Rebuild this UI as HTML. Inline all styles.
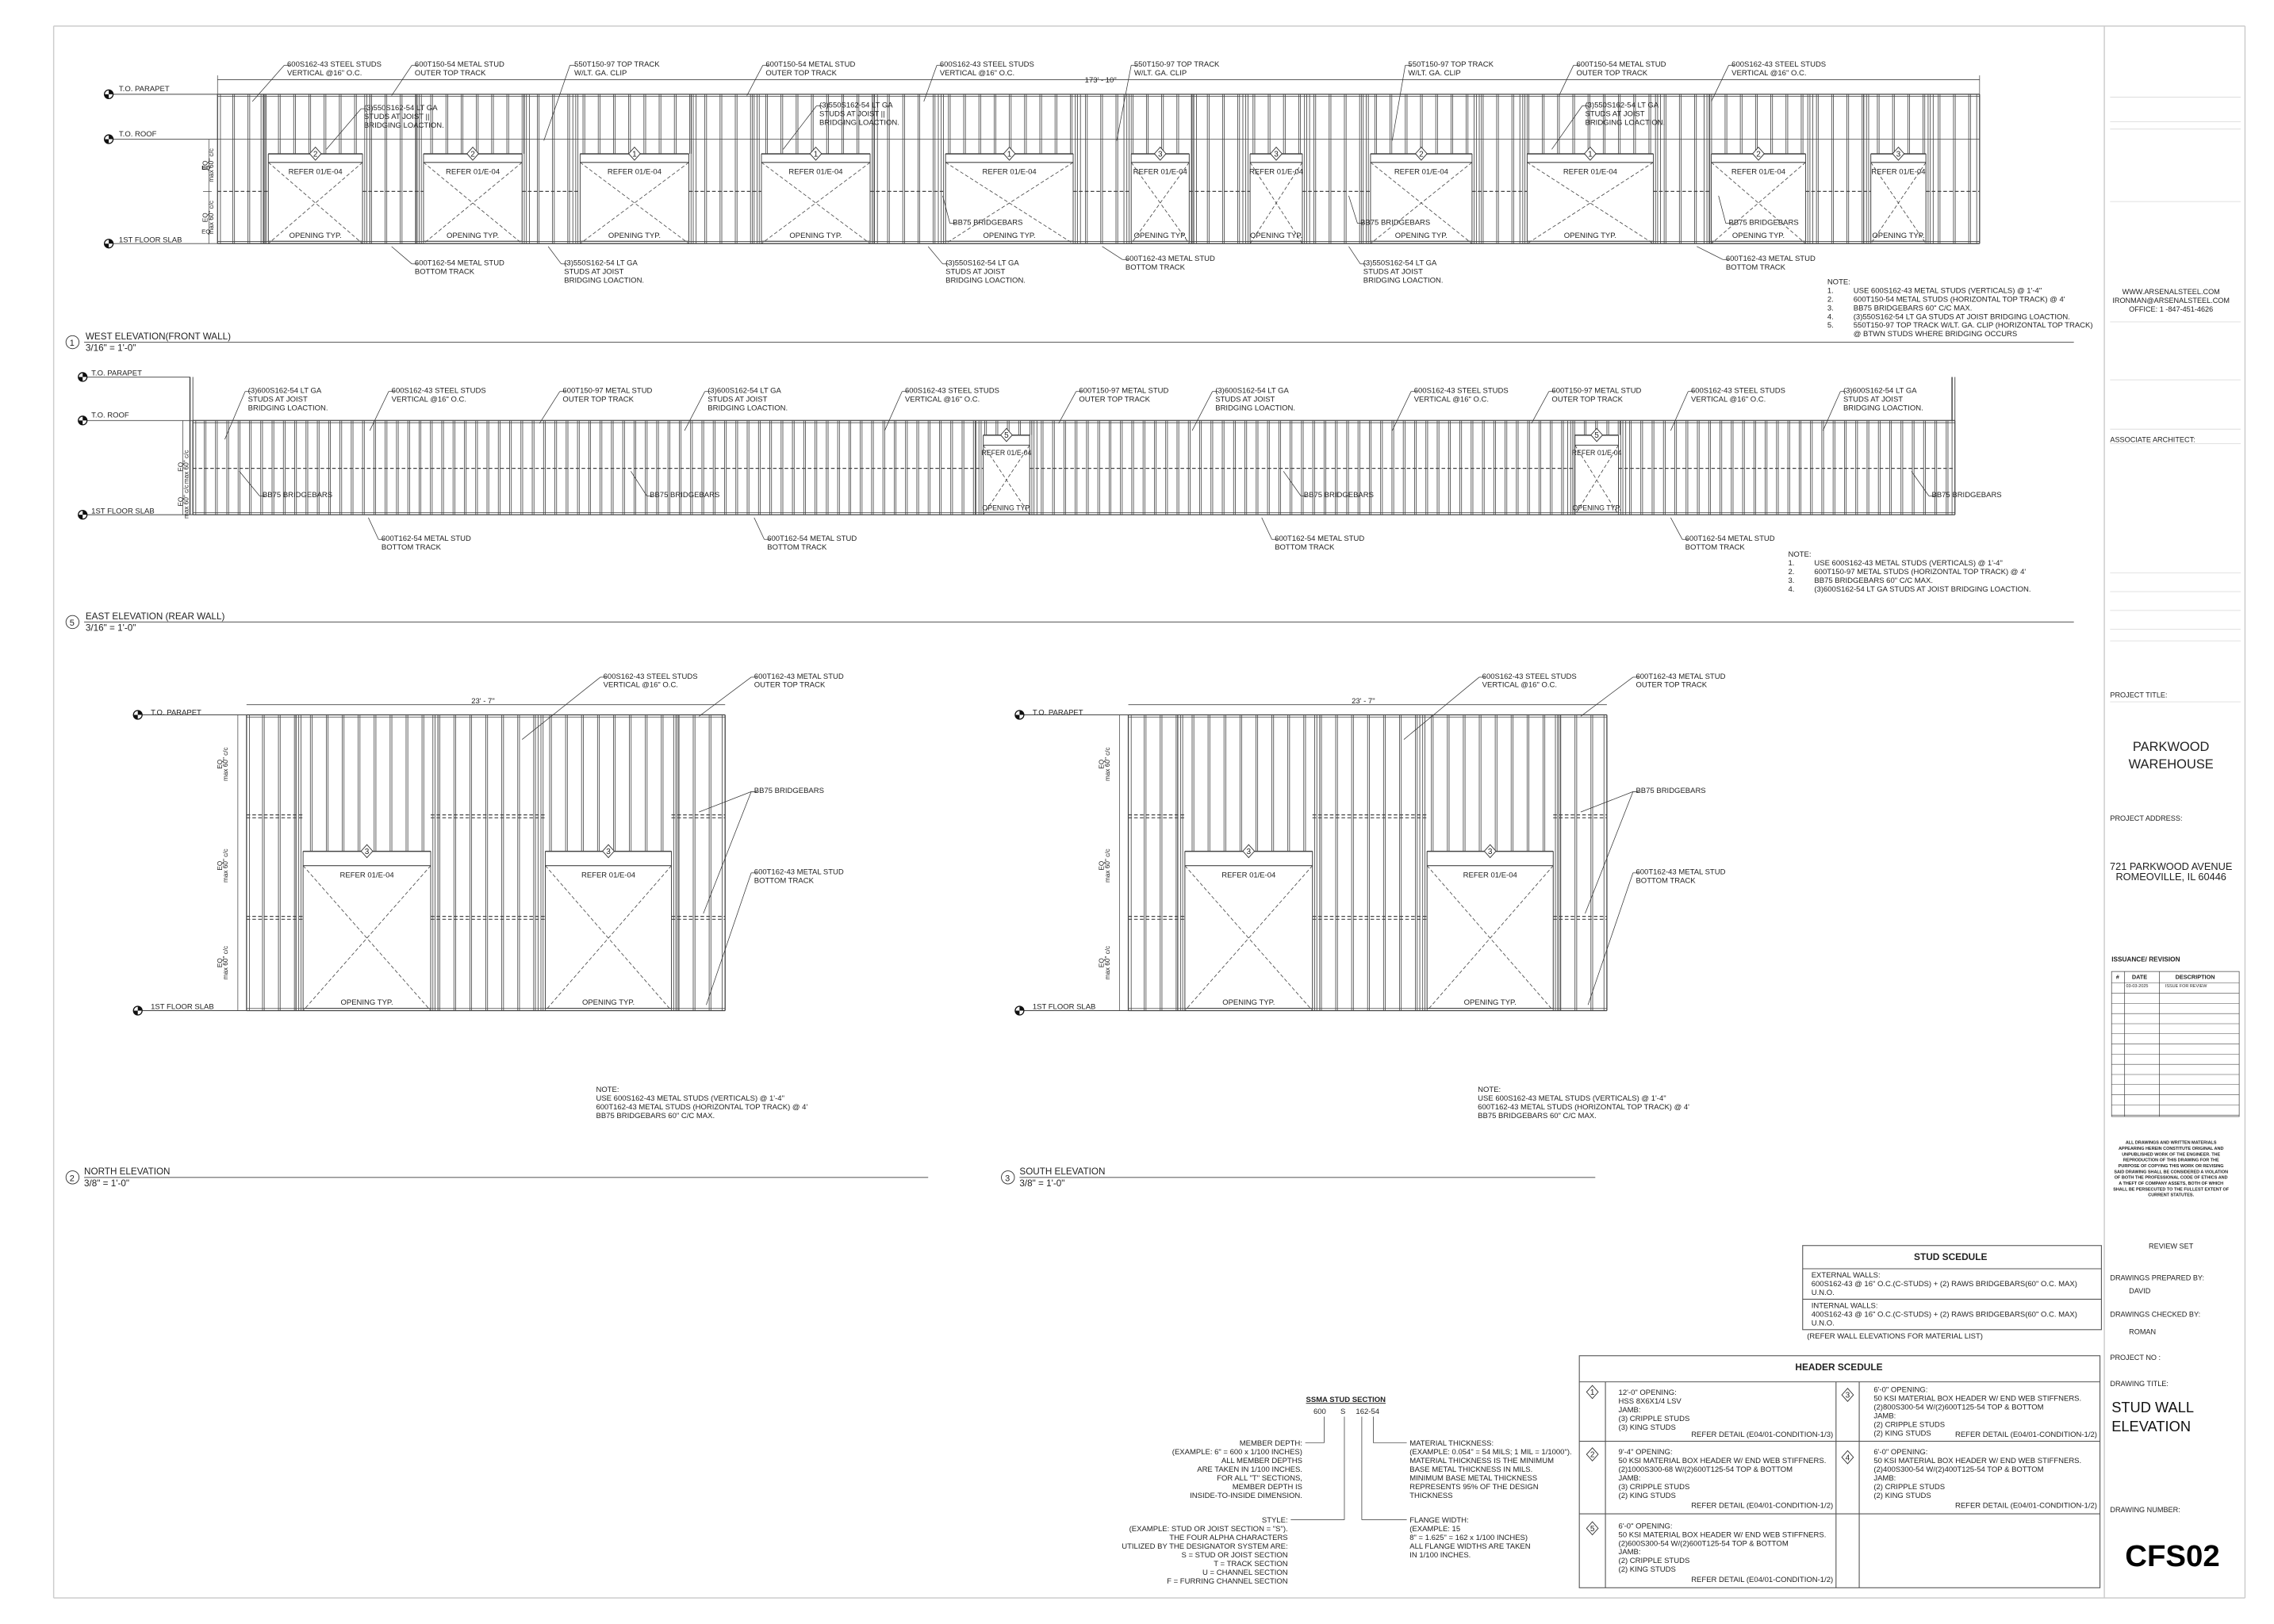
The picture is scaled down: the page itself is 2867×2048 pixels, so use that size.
<!DOCTYPE html>
<html><head><meta charset="utf-8"><style>
html,body{margin:0;padding:0;background:#fff}
svg{display:block}
text{font-family:"Liberation Sans Narrow","Liberation Sans",sans-serif;fill:#222}
.s{font-size:5.2px}
.m{font-size:6.4px}
.tb{font-family:"Liberation Sans",sans-serif;font-size:5px;fill:#333}
</style></head><body>
<svg id="d" xmlns="http://www.w3.org/2000/svg" width="2867" height="2048" viewBox="0 0 1568 1120" preserveAspectRatio="none">
<rect x="0" y="0" width="1568" height="1120" fill="#fff"/>
<g fill="none" stroke="#ccc" stroke-width="0.8">
<line x1="37" y1="18" x2="37" y2="1102"/><line x1="37" y1="18" x2="1548" y2="18"/><line x1="37" y1="1102" x2="1548" y2="1102"/>
<line x1="1451" y1="18" x2="1451" y2="1102"/><line x1="1548" y1="18" x2="1548" y2="1102"/>
</g>
<g id="lines" stroke="#444" stroke-width="0.45" fill="none"></g>
<g id="dash" stroke="#444" stroke-width="0.45" fill="none" stroke-dasharray="2.5,1.5"></g>
<g id="lead" stroke="#333" stroke-width="0.4" fill="none"></g>
<g id="mk"></g>

<!-- WEST labels -->
<g class="s">
<text x="198" y="46">600S162-43 STEEL STUDS</text><text x="198" y="52">VERTICAL @16" O.C.</text>
<text x="286" y="46">600T150-54 METAL STUD</text><text x="286" y="52">OUTER TOP TRACK</text>
<text x="396" y="46">550T150-97 TOP TRACK</text><text x="396" y="52">W/LT. GA. CLIP</text>
<text x="528" y="46">600T150-54 METAL STUD</text><text x="528" y="52">OUTER TOP TRACK</text>
<text x="648" y="46">600S162-43 STEEL STUDS</text><text x="648" y="52">VERTICAL @16" O.C.</text>
<text x="782" y="46">550T150-97 TOP TRACK</text><text x="782" y="52">W/LT. GA. CLIP</text>
<text x="971" y="46">550T150-97 TOP TRACK</text><text x="971" y="52">W/LT. GA. CLIP</text>
<text x="1087" y="46">600T150-54 METAL STUD</text><text x="1087" y="52">OUTER TOP TRACK</text>
<text x="1194" y="46">600S162-43 STEEL STUDS</text><text x="1194" y="52">VERTICAL @16" O.C.</text>
<text x="748" y="57">173' - 10"</text>
<text x="251" y="76">(3)550S162-54 LT GA</text><text x="251" y="82">STUDS AT JOIST ||</text><text x="251" y="88">BRIDGING LOACTION.</text>
<text x="565" y="74">(3)550S162-54 LT GA</text><text x="565" y="80">STUDS AT JOIST ||</text><text x="565" y="86">BRIDGING LOACTION.</text>
<text x="1093" y="74">(3)550S162-54 LT GA</text><text x="1093" y="80">STUDS AT JOIST</text><text x="1093" y="86">BRIDGING LOACTION.</text>
<text x="286" y="183">600T162-54 METAL STUD</text><text x="286" y="189">BOTTOM TRACK</text>
<text x="389" y="183">(3)550S162-54 LT GA</text><text x="389" y="189">STUDS AT JOIST</text><text x="389" y="195">BRIDGING LOACTION.</text>
<text x="652" y="183">(3)550S162-54 LT GA</text><text x="652" y="189">STUDS AT JOIST</text><text x="652" y="195">BRIDGING LOACTION.</text>
<text x="776" y="180">600T162-43 METAL STUD</text><text x="776" y="186">BOTTOM TRACK</text>
<text x="940" y="183">(3)550S162-54 LT GA</text><text x="940" y="189">STUDS AT JOIST</text><text x="940" y="195">BRIDGING LOACTION.</text>
<text x="1190" y="180">600T162-43 METAL STUD</text><text x="1190" y="186">BOTTOM TRACK</text>
<text x="657" y="155">BB75 BRIDGEBARS</text><text x="938" y="155">BB75 BRIDGEBARS</text><text x="1192" y="155">BB75 BRIDGEBARS</text>
<text x="1260" y="196">NOTE:</text>
<text x="1260" y="202">1.</text><text x="1278" y="202">USE 600S162-43 METAL STUDS (VERTICALS) @ 1'-4"</text>
<text x="1260" y="208">2.</text><text x="1278" y="208">600T150-54 METAL STUDS (HORIZONTAL TOP TRACK) @ 4'</text>
<text x="1260" y="214">3.</text><text x="1278" y="214">BB75 BRIDGEBARS 60" C/C MAX.</text>
<text x="1260" y="220">4.</text><text x="1278" y="220">(3)550S162-54 LT GA STUDS AT JOIST BRIDGING LOACTION.</text>
<text x="1260" y="226">5.</text><text x="1278" y="226">550T150-97 TOP TRACK W/LT. GA. CLIP (HORIZONTAL TOP TRACK)</text>
<text x="1278" y="232">@ BTWN STUDS WHERE BRIDGING OCCURS</text>
</g>
<g class="s">
<text x="82" y="63">T.O. PARAPET</text><text x="82" y="94">T.O. ROOF</text><text x="82" y="167">1ST FLOOR SLAB</text>
<text x="63" y="259">T.O. PARAPET</text><text x="63" y="288">T.O. ROOF</text><text x="63" y="354">1ST FLOOR SLAB</text>
<text x="104" y="493">T.O. PARAPET</text><text x="104" y="696">1ST FLOOR SLAB</text>
<text x="712" y="493">T.O. PARAPET</text><text x="712" y="696">1ST FLOOR SLAB</text>
</g>
<!-- EAST labels -->
<g class="s">
<text x="171" y="271">(3)600S162-54 LT GA</text><text x="171" y="277">STUDS AT JOIST</text><text x="171" y="283">BRIDGING LOACTION.</text>
<text x="270" y="271">600S162-43 STEEL STUDS</text><text x="270" y="277">VERTICAL @16" O.C.</text>
<text x="388" y="271">600T150-97 METAL STUD</text><text x="388" y="277">OUTER TOP TRACK</text>
<text x="488" y="271">(3)600S162-54 LT GA</text><text x="488" y="277">STUDS AT JOIST</text><text x="488" y="283">BRIDGING LOACTION.</text>
<text x="624" y="271">600S162-43 STEEL STUDS</text><text x="624" y="277">VERTICAL @16" O.C.</text>
<text x="744" y="271">600T150-97 METAL STUD</text><text x="744" y="277">OUTER TOP TRACK</text>
<text x="838" y="271">(3)600S162-54 LT GA</text><text x="838" y="277">STUDS AT JOIST</text><text x="838" y="283">BRIDGING LOACTION.</text>
<text x="975" y="271">600S162-43 STEEL STUDS</text><text x="975" y="277">VERTICAL @16" O.C.</text>
<text x="1070" y="271">600T150-97 METAL STUD</text><text x="1070" y="277">OUTER TOP TRACK</text>
<text x="1166" y="271">600S162-43 STEEL STUDS</text><text x="1166" y="277">VERTICAL @16" O.C.</text>
<text x="1271" y="271">(3)600S162-54 LT GA</text><text x="1271" y="277">STUDS AT JOIST</text><text x="1271" y="283">BRIDGING LOACTION.</text>
<text x="181" y="343">BB75 BRIDGEBARS</text><text x="448" y="343">BB75 BRIDGEBARS</text><text x="899" y="343">BB75 BRIDGEBARS</text><text x="1332" y="343">BB75 BRIDGEBARS</text>
<text x="263" y="373">600T162-54 METAL STUD</text><text x="263" y="379">BOTTOM TRACK</text>
<text x="529" y="373">600T162-54 METAL STUD</text><text x="529" y="379">BOTTOM TRACK</text>
<text x="879" y="373">600T162-54 METAL STUD</text><text x="879" y="379">BOTTOM TRACK</text>
<text x="1162" y="373">600T162-54 METAL STUD</text><text x="1162" y="379">BOTTOM TRACK</text>
<text x="1233" y="384">NOTE:</text>
<text x="1233" y="390">1.</text><text x="1251" y="390">USE 600S162-43 METAL STUDS (VERTICALS) @ 1'-4"</text>
<text x="1233" y="396">2.</text><text x="1251" y="396">600T150-97 METAL STUDS (HORIZONTAL TOP TRACK) @ 4'</text>
<text x="1233" y="402">3.</text><text x="1251" y="402">BB75 BRIDGEBARS 60" C/C MAX.</text>
<text x="1233" y="408">4.</text><text x="1251" y="408">(3)600S162-54 LT GA STUDS AT JOIST BRIDGING LOACTION.</text>
</g>
<!-- NORTH / SOUTH labels -->
<g class="s">
<text x="416" y="468">600S162-43 STEEL STUDS</text><text x="416" y="474">VERTICAL @16" O.C.</text>
<text x="520" y="468">600T162-43 METAL STUD</text><text x="520" y="474">OUTER TOP TRACK</text>
<text x="520" y="547">BB75 BRIDGEBARS</text>
<text x="520" y="603">600T162-43 METAL STUD</text><text x="520" y="609">BOTTOM TRACK</text>
<text x="325" y="485">23' - 7"</text>
<text x="411" y="753">NOTE:</text><text x="411" y="759">USE 600S162-43 METAL STUDS (VERTICALS) @ 1'-4"</text><text x="411" y="765">600T162-43 METAL STUDS (HORIZONTAL TOP TRACK) @ 4'</text><text x="411" y="771">BB75 BRIDGEBARS 60" C/C MAX.</text>
<text x="1022" y="468">600S162-43 STEEL STUDS</text><text x="1022" y="474">VERTICAL @16" O.C.</text>
<text x="1128" y="468">600T162-43 METAL STUD</text><text x="1128" y="474">OUTER TOP TRACK</text>
<text x="1128" y="547">BB75 BRIDGEBARS</text>
<text x="1128" y="603">600T162-43 METAL STUD</text><text x="1128" y="609">BOTTOM TRACK</text>
<text x="932" y="485">23' - 7"</text>
<text x="1019" y="753">NOTE:</text><text x="1019" y="759">USE 600S162-43 METAL STUDS (VERTICALS) @ 1'-4"</text><text x="1019" y="765">600T162-43 METAL STUDS (HORIZONTAL TOP TRACK) @ 4'</text><text x="1019" y="771">BB75 BRIDGEBARS 60" C/C MAX.</text>
</g>
<!-- titles -->
<g class="m">
<circle cx="50" cy="236" r="4.5" fill="none" stroke="#333" stroke-width="0.5"/><text x="48" y="238.5" style="font-size:6px">1</text>
<text x="59" y="234">WEST ELEVATION(FRONT WALL)</text><text x="59" y="242">3/16" = 1'-0"</text>
<circle cx="50" cy="429" r="4.5" fill="none" stroke="#333" stroke-width="0.5"/><text x="48" y="431.5" style="font-size:6px">5</text>
<text x="59" y="427">EAST ELEVATION (REAR WALL)</text><text x="59" y="435">3/16" = 1'-0"</text>
<circle cx="50" cy="812" r="4.5" fill="none" stroke="#333" stroke-width="0.5"/><text x="48" y="814.5" style="font-size:6px">2</text>
<text x="58" y="810">NORTH ELEVATION</text><text x="58" y="818">3/8" = 1'-0"</text>
<circle cx="695" cy="812" r="4.5" fill="none" stroke="#333" stroke-width="0.5"/><text x="693" y="814.5" style="font-size:6px">3</text>
<text x="703" y="810">SOUTH ELEVATION</text><text x="703" y="818">3/8" = 1'-0"</text>
</g>
<g stroke="#666" stroke-width="0.6"><line x1="58" y1="236" x2="1430" y2="236"/><line x1="58" y1="429" x2="1430" y2="429"/><line x1="58" y1="812" x2="640" y2="812"/><line x1="703" y1="812" x2="1100" y2="812"/></g>

<!-- STUD SCHEDULE -->
<g fill="none" stroke="#555" stroke-width="0.6">
<rect x="1243" y="859" width="206" height="58"/><line x1="1243" y1="875" x2="1449" y2="875"/><line x1="1243" y1="896" x2="1449" y2="896"/>
<rect x="1089" y="935" width="359" height="160"/><line x1="1089" y1="953" x2="1448" y2="953"/>
<line x1="1089" y1="994" x2="1448" y2="994"/><line x1="1089" y1="1044" x2="1448" y2="1044"/>
<line x1="1107" y1="953" x2="1107" y2="1095"/><line x1="1266" y1="953" x2="1266" y2="1095"/><line x1="1282" y1="953" x2="1282" y2="1095"/>
</g>
<g class="s">
<text x="1345" y="869" text-anchor="middle" style="font-weight:bold;font-size:6.5px">STUD SCEDULE</text>
<text x="1249" y="881">EXTERNAL WALLS:</text><text x="1249" y="887">600S162-43 @ 16" O.C.(C-STUDS) + (2) RAWS BRIDGEBARS(60" O.C. MAX)</text><text x="1249" y="893">U.N.O.</text>
<text x="1249" y="902">INTERNAL WALLS:</text><text x="1249" y="908">400S162-43 @ 16" O.C.(C-STUDS) + (2) RAWS BRIDGEBARS(60" O.C. MAX)</text><text x="1249" y="914">U.N.O.</text>
<text x="1246" y="923">(REFER WALL ELEVATIONS FOR MATERIAL LIST)</text>
<text x="1268" y="945" text-anchor="middle" style="font-weight:bold;font-size:6.5px">HEADER SCEDULE</text>
<text x="1116" y="962">12'-0" OPENING:</text><text x="1116" y="968">HSS 8X6X1/4 LSV</text><text x="1116" y="974">JAMB:</text><text x="1116" y="980">(3) CRIPPLE STUDS</text><text x="1116" y="986">(3) KING STUDS</text><text x="1264" y="991" text-anchor="end">REFER DETAIL (E04/01-CONDITION-1/3)</text>
<text x="1116" y="1003">9'-4" OPENING:</text><text x="1116" y="1009">50 KSI MATERIAL BOX HEADER W/ END WEB STIFFNERS.</text><text x="1116" y="1015">(2)1000S300-68 W/(2)600T125-54 TOP &amp; BOTTOM</text><text x="1116" y="1021">JAMB:</text><text x="1116" y="1027">(3) CRIPPLE STUDS</text><text x="1116" y="1033">(2) KING STUDS</text><text x="1264" y="1040" text-anchor="end">REFER DETAIL (E04/01-CONDITION-1/2)</text>
<text x="1116" y="1054">6'-0" OPENING:</text><text x="1116" y="1060">50 KSI MATERIAL BOX HEADER W/ END WEB STIFFNERS.</text><text x="1116" y="1066">(2)600S300-54 W/(2)600T125-54 TOP &amp; BOTTOM</text><text x="1116" y="1072">JAMB:</text><text x="1116" y="1078">(2) CRIPPLE STUDS</text><text x="1116" y="1084">(2) KING STUDS</text><text x="1264" y="1091" text-anchor="end">REFER DETAIL (E04/01-CONDITION-1/2)</text>
<text x="1292" y="960">6'-0" OPENING:</text><text x="1292" y="966">50 KSI MATERIAL BOX HEADER W/ END WEB STIFFNERS.</text><text x="1292" y="972">(2)800S300-54 W/(2)600T125-54 TOP &amp; BOTTOM</text><text x="1292" y="978">JAMB:</text><text x="1292" y="984">(2) CRIPPLE STUDS</text><text x="1292" y="990">(2) KING STUDS</text><text x="1446" y="991" text-anchor="end">REFER DETAIL (E04/01-CONDITION-1/2)</text>
<text x="1292" y="1003">6'-0" OPENING:</text><text x="1292" y="1009">50 KSI MATERIAL BOX HEADER W/ END WEB STIFFNERS.</text><text x="1292" y="1015">(2)400S300-54 W/(2)400T125-54 TOP &amp; BOTTOM</text><text x="1292" y="1021">JAMB:</text><text x="1292" y="1027">(2) CRIPPLE STUDS</text><text x="1292" y="1033">(2) KING STUDS</text><text x="1446" y="1040" text-anchor="end">REFER DETAIL (E04/01-CONDITION-1/2)</text>
</g>
<!-- SSMA -->
<g class="s">
<text x="928" y="967" text-anchor="middle" style="font-weight:bold;text-decoration:underline">SSMA STUD SECTION</text>
<text x="910" y="975" text-anchor="middle">600</text><text x="926" y="975" text-anchor="middle">S</text><text x="943" y="975" text-anchor="middle">162-54</text>
<g text-anchor="end">
<text x="898" y="997">MEMBER DEPTH:</text><text x="898" y="1003">(EXAMPLE: 6" = 600 x 1/100 INCHES)</text><text x="898" y="1009">ALL MEMBER DEPTHS</text><text x="898" y="1015">ARE TAKEN IN 1/100 INCHES.</text><text x="898" y="1021">FOR ALL "T" SECTIONS,</text><text x="898" y="1027">MEMBER DEPTH IS</text><text x="898" y="1033">INSIDE-TO-INSIDE DIMENSION.</text>
<text x="888" y="1050">STYLE:</text><text x="888" y="1056">(EXAMPLE: STUD OR JOIST SECTION = "S").</text><text x="888" y="1062">THE FOUR ALPHA CHARACTERS</text><text x="888" y="1068">UTILIZED BY THE DESIGNATOR SYSTEM ARE:</text><text x="888" y="1074">S = STUD OR JOIST SECTION</text><text x="888" y="1080">T = TRACK SECTION</text><text x="888" y="1086">U = CHANNEL SECTION</text><text x="888" y="1092">F = FURRING CHANNEL SECTION</text>
</g>
<text x="972" y="997">MATERIAL THICKNESS:</text><text x="972" y="1003">(EXAMPLE: 0.054" = 54 MILS; 1 MIL = 1/1000").</text><text x="972" y="1009">MATERIAL THICKNESS IS THE MINIMUM</text><text x="972" y="1015">BASE METAL THICKNESS IN MILS.</text><text x="972" y="1021">MINIMUM BASE METAL THICKNESS</text><text x="972" y="1027">REPRESENTS 95% OF THE DESIGN</text><text x="972" y="1033">THICKNESS</text>
<text x="972" y="1050">FLANGE WIDTH:</text><text x="972" y="1056">(EXAMPLE: 15</text><text x="972" y="1062">8" = 1.625" = 162 x 1/100 INCHES)</text><text x="972" y="1068">ALL FLANGE WIDTHS ARE TAKEN</text><text x="972" y="1074">IN 1/100 INCHES.</text>
</g>
<g stroke="#333" stroke-width="0.4" fill="none">
<polyline points="913,977 913,995 900,995"/><polyline points="927,977 927,1048 890,1048"/><polyline points="939,977 939,1048 970,1048"/><polyline points="947,977 947,995 970,995"/>
</g>
<!-- TITLE BLOCK -->
<g stroke="#ddd" stroke-width="0.5">
<line x1="1455" y1="67" x2="1545" y2="67"/><line x1="1455" y1="84" x2="1545" y2="84"/><line x1="1455" y1="89" x2="1545" y2="89"/>
<line x1="1455" y1="139" x2="1545" y2="139"/><line x1="1455" y1="222" x2="1545" y2="222"/><line x1="1455" y1="262" x2="1545" y2="262"/>
<line x1="1455" y1="296" x2="1545" y2="296"/><line x1="1455" y1="306" x2="1545" y2="306"/><line x1="1455" y1="395" x2="1545" y2="395"/>
<line x1="1455" y1="408" x2="1545" y2="408"/><line x1="1455" y1="421" x2="1545" y2="421"/><line x1="1455" y1="434" x2="1545" y2="434"/><line x1="1455" y1="442" x2="1545" y2="442"/><line x1="1455" y1="484" x2="1545" y2="484"/>
</g>
<g class="tb">
<text x="1497" y="203" text-anchor="middle">WWW.ARSENALSTEEL.COM</text><text x="1497" y="209" text-anchor="middle">IRONMAN@ARSENALSTEEL.COM</text><text x="1497" y="215" text-anchor="middle">OFFICE: 1 -847-451-4626</text>
<text x="1455" y="305">ASSOCIATE ARCHITECT:</text>
<text x="1455" y="481">PROJECT TITLE:</text>
<text x="1497" y="518" text-anchor="middle" style="font-size:9px">PARKWOOD</text><text x="1497" y="530" text-anchor="middle" style="font-size:9px">WAREHOUSE</text>
<text x="1455" y="566">PROJECT ADDRESS:</text>
<text x="1497" y="600" text-anchor="middle" style="font-size:7px">721 PARKWOOD AVENUE</text><text x="1497" y="607" text-anchor="middle" style="font-size:7px">ROMEOVILLE, IL 60446</text>
<text x="1456" y="663" style="font-weight:bold;font-size:4.5px">ISSUANCE/ REVISION</text>
<text x="1497" y="861" text-anchor="middle">REVIEW SET</text>
<text x="1455" y="883">DRAWINGS PREPARED BY:</text><text x="1468" y="892">DAVID</text>
<text x="1455" y="908">DRAWINGS CHECKED BY:</text><text x="1468" y="920">ROMAN</text>
<text x="1455" y="938">PROJECT NO :</text>
<text x="1455" y="956">DRAWING TITLE:</text>
<text x="1456" y="974" style="font-size:10px;fill:#111">STUD WALL</text><text x="1456" y="987" style="font-size:10px;fill:#111">ELEVATION</text>
<text x="1455" y="1043">DRAWING NUMBER:</text>
<text x="1498" y="1080" text-anchor="middle" style="font-size:21px;font-weight:bold;fill:#000">CFS02</text>
<g style="font-size:3px;font-weight:bold" text-anchor="middle">
<text x="1497" y="789">ALL DRAWINGS AND WRITTEN MATERIALS</text><text x="1497" y="793">APPEARING HEREIN CONSTITUTE ORIGINAL AND</text><text x="1497" y="797">UNPUBLISHED WORK OF THE ENGINEER. THE</text><text x="1497" y="801">REPRODUCTION OF THIS DRAWING FOR THE</text><text x="1497" y="805">PURPOSE OF COPYING THIS WORK OR REVISING</text><text x="1497" y="809">SAID DRAWING SHALL BE CONSIDERED A VIOLATION</text><text x="1497" y="813">OF BOTH THE PROFESSIONAL CODE OF ETHICS AND</text><text x="1497" y="817">A THEFT OF COMPANY ASSETS, BOTH OF WHICH</text><text x="1497" y="821">SHALL BE PERSECUTED TO THE FULLEST EXTENT OF</text><text x="1497" y="825">CURRENT STATUTES.</text>
</g>
<text x="1459" y="675" style="font-size:4px;font-weight:bold">#</text><text x="1470" y="675" style="font-size:4px;font-weight:bold">DATE</text><text x="1500" y="675" style="font-size:4px;font-weight:bold">DESCRIPTION</text>
<text x="1466" y="681" style="font-size:3px">03-03-2025</text><text x="1493" y="681" style="font-size:3px">ISSUE FOR REVIEW</text>
</g>
<g id="rev" stroke="#444" stroke-width="0.4" fill="none">
<rect x="1456" y="670" width="88" height="100"/><line x1="1465" y1="670" x2="1465" y2="770"/><line x1="1489" y1="670" x2="1489" y2="770"/>
</g>
<g class="tb" style="font-size:5px"></g>
</svg>
<script>
const NS="http://www.w3.org/2000/svg";
const L=document.getElementById('lines'),D=document.getElementById('dash'),LD=document.getElementById('lead'),MK=document.getElementById('mk');
function ln(g,x1,y1,x2,y2,w,c){const e=document.createElementNS(NS,'line');e.setAttribute('x1',x1);e.setAttribute('y1',y1);e.setAttribute('x2',x2);e.setAttribute('y2',y2);if(w)e.setAttribute('stroke-width',w);if(c)e.setAttribute('stroke',c);g.appendChild(e);}
function tx(x,y,s,sz,anch){const e=document.createElementNS(NS,'text');e.setAttribute('x',x);e.setAttribute('y',y);e.setAttribute('style','font-size:'+(sz||5.2)+'px');if(anch)e.setAttribute('text-anchor',anch);e.textContent=s;MK.appendChild(e);}
function diamond(cx,cy,n){const p=document.createElementNS(NS,'polygon');p.setAttribute('points',`${cx},${cy-4.5} ${cx+4},${cy} ${cx},${cy+4.5} ${cx-4},${cy}`);p.setAttribute('fill','#fff');p.setAttribute('stroke','#333');p.setAttribute('stroke-width','0.5');MK.appendChild(p);tx(cx,cy+2,n,5.5,'middle');}
function level(x,y,x2){const c=document.createElementNS(NS,'circle');c.setAttribute('cx',x);c.setAttribute('cy',y);c.setAttribute('r',3);c.setAttribute('fill','#fff');c.setAttribute('stroke','#111');c.setAttribute('stroke-width','0.7');MK.appendChild(c);
 const p=document.createElementNS(NS,'path');p.setAttribute('d',`M${x},${y-3}A3,3 0 0,1 ${x+3},${y}L${x},${y}Z M${x},${y+3}A3,3 0 0,1 ${x-3},${y}L${x},${y}Z`);p.setAttribute('fill','#111');MK.appendChild(p);ln(L,x+3,y,x2,y,0.5);}
function lead(x1,y1,x2,y2){ln(LD,x1,y1,x1+4,y1);ln(LD,x1,y1,x2,y2);}
function inOpen(x,ops){for(const o of ops)if(x>o[0]-1&&x<o[1]+1)return o;return null;}
function wall(o){
 const {x0,x1,yT,yS,sp,ops,hT,hB,bridges,yR,wide}=o;
 ln(L,x0,yT,x1,yT,0.7);ln(L,x0,yT+1.5,x1,yT+1.5);ln(L,x0,yS,x1,yS,0.7);ln(L,x0,yS-1.5,x1,yS-1.5);
 ln(L,x0,yT,x0,yS,0.7);ln(L,x0+2,yT,x0+2,yS);ln(L,x1,yT,x1,yS,0.7);ln(L,x1-2,yT,x1-2,yS);
 let i=0;
 for(let x=x0+sp;x<x1-2;x+=sp,i++){
  const op=inOpen(x,ops);
  if(op){ln(L,x,yT,x,hT);ln(L,x+1.2,yT,x+1.2,hT);}
  else{ln(L,x,yT,x,yS);ln(L,x+1.2,yT,x+1.2,yS);}
 }
 for(const op of ops){
  const [a,b,n,lab]=op;
  // jamb studs
  for(const dx of [-5,-3,-1.5]){ln(L,a+dx,yT,a+dx,yS);ln(L,b-dx,yT,b-dx,yS);}
  const bg=document.createElementNS(NS,'rect');bg.setAttribute('x',a);bg.setAttribute('y',hT+0.3);bg.setAttribute('width',b-a);bg.setAttribute('height',yS-hT-2);bg.setAttribute('fill','#fff');L.appendChild(bg);
  ln(L,a,hT,b,hT,0.6);ln(L,a,hB,b,hB,0.6);ln(L,a,hT,a,yS);ln(L,b,hT,b,yS);
  ln(D,a,hB,b,yS);ln(D,b,hB,a,yS);
  diamond((a+b)/2,hT,n);
  tx((a+b)/2,hB+(wide?8:7),'REFER '+(lab||'01/E-04'),wide?5.2:4.8,'middle');
  tx((a+b)/2,yS-(wide?4:3),'OPENING TYP.',wide?5.2:4.8,'middle');
 }
 for(const by of bridges){
  let segs=[[x0,x1]];
  for(const op of ops){const n=[];for(const s of segs){if(op[1]<s[0]||op[0]>s[1]){n.push(s);continue;}if(op[0]>s[0])n.push([s[0],op[0]]);if(op[1]<s[1])n.push([op[1],s[1]]);}segs=n;}
  for(const s of segs){ln(D,s[0],by,s[1],by,0.7);if(o.dbl)ln(D,s[0],by+2,s[1],by+2,0.6);}
 }
}
// WEST
const W={x0:150,x1:1365,yT:65,yS:168,sp:10.5,hT:106,hB:112,bridges:[132],wide:1,
ops:[[185,250,'2'],[292,360,'2'],[400,475,'1'],[525,600,'1'],[652,740,'1'],[780,820,'3'],[862,898,'3'],[945,1015,'2'],[1053,1140,'1'],[1180,1245,'2'],[1290,1328,'3']]};
wall(W);
ln(L,150,96,1365,96,0.4);
level(75,65,150);level(75,96,150);level(75,168,150);
ln(L,150,55,1365,55,0.5);ln(L,150,52,150,65,0.4);ln(L,1365,52,1365,65,0.4);
// dims left
ln(L,144,96,144,168,0.4);ln(L,140,132,146,132,0.4);
tx(139,117,'EQ',4.2);tx(139,161,'EQ',4.2);
// EAST
const E={x0:133,x1:1348,yT:290,yS:355,sp:7.8,hT:300,hB:307,bridges:[323],
ops:[[678,710,'5'],[1086,1116,'5']]};
wall(E);
ln(L,131,260,131,355,0.8);ln(L,133,260,133,355,0.5);ln(L,1346,260,1346,290,0.8);ln(L,1348,260,1348,290,0.5);
level(57,260,131);level(57,290,133);level(57,355,133);
ln(L,126,290,126,355,0.4);
// NORTH
const N={x0:170,x1:500,yT:493,yS:697,sp:11,hT:587,hB:597,bridges:[562,632],dbl:1,wide:1,ops:[[209,297,'3'],[376,463,'3']]};
wall(N);level(95,493,170);level(95,697,170);
ln(L,170,486,500,486,0.5);ln(L,164,493,164,697,0.4);
const S={x0:778,x1:1108,yT:493,yS:697,sp:11,hT:587,hB:597,bridges:[562,632],dbl:1,wide:1,ops:[[817,905,'3'],[984,1071,'3']]};
wall(S);level(703,493,778);level(703,697,778);
ln(L,778,486,1108,486,0.5);ln(L,772,493,772,697,0.4);
// rotated EQ labels
function rt(x,y,s){const e=document.createElementNS(NS,'text');e.setAttribute('transform',`translate(${x},${y}) rotate(-90)`);e.setAttribute('style','font-size:4.5px');e.setAttribute('text-anchor','middle');e.textContent=s;MK.appendChild(e);}
for(const [x,y] of [[147,114],[147,150],[130,322],[130,346],[157,527],[157,597],[157,664],[765,527],[765,597],[765,664]]){rt(x-4,y,'EQ');rt(x,y,'max 60" c/c');}
// leaders west
[[196,45,174,70],[284,45,270,66],[393,45,375,97],[526,45,515,66],[646,45,637,70],[780,45,770,97],[969,45,960,97],[1085,45,1075,66],[1192,45,1180,70],
 [249,75,225,103],[563,73,540,103],[1091,73,1070,103],
 [284,182,270,170],[387,182,378,170],[650,182,640,170],[774,179,760,170],[938,182,930,170],[1188,179,1170,170],
 [655,154,650,135],[936,154,930,135],[1190,154,1185,135],
// east
 [169,270,155,303],[268,270,255,297],[386,270,372,292],[486,270,472,297],[622,270,610,297],[742,270,730,292],[836,270,822,297],[973,270,960,297],[1068,270,1056,292],[1164,270,1152,297],[1269,270,1257,297],
 [179,342,165,325],[446,342,435,325],[897,342,885,325],[1330,342,1318,325],
 [261,372,254,357],[527,372,520,357],[877,372,870,357],[1160,372,1152,357],
// north/south
 [414,467,360,510],[518,467,482,494],[518,546,482,560],[518,546,485,630],[518,602,487,693],
 [1020,467,968,510],[1126,467,1090,494],[1126,546,1090,560],[1126,546,1093,630],[1126,602,1095,693]
].forEach(a=>lead(...a));
// header schedule diamonds
diamond(1098,960,'1');diamond(1098,1003,'2');diamond(1098,1054,'5');diamond(1274,962,'3');diamond(1274,1005,'4');
// revision rows
const R=document.getElementById('rev');for(let y=678;y<770;y+=7)ln(R,1456,y,1544,y,0.3);
</script>
</body></html>
